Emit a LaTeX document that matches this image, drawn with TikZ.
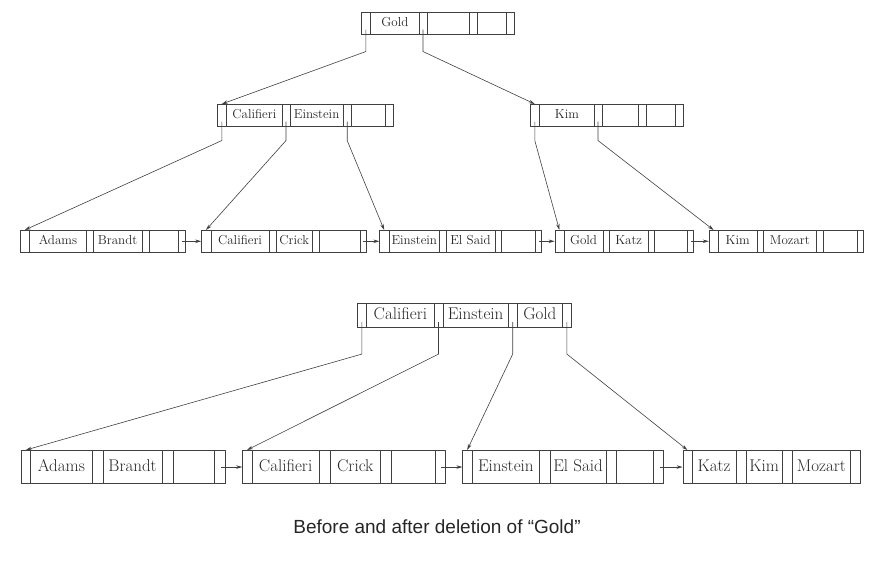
\documentclass[tikz,border=0pt]{standalone}
\usepackage{fontspec}
\newfontfamily\capfont{Liberation Sans}
\usetikzlibrary{arrows,arrows.meta,positioning,calc,shapes.multipart}

% pointer cell and key cell of a tree node
\newcommand{\pc}[1]{\makebox[#1pt]{\vphantom{Ag}}}
\newcommand{\kc}[2]{\makebox[#1pt]{\vphantom{Ag}#2}}
% p k p k p k p
\newcommand{\bcells}[7]{\pc{9}\nodepart{two}\kc{#1}{#2}\nodepart{three}\pc{#7}%
  \nodepart{four}\kc{#3}{#4}\nodepart{five}\pc{#7}\nodepart{six}\kc{#5}{#6}\nodepart{seven}\pc{#7}}

\begin{document}
\begin{tikzpicture}[>={Stealth[length=6pt,width=3.5pt]}, x=1pt, y=1pt]
        \tikzstyle{bnode}=[rectangle split, rectangle split horizontal, rectangle split parts=7,
          draw=black!75, line width=0.6pt, text=black!85, inner xsep=0pt, inner ysep=5pt,
          anchor=north west, font=\fontsize{13}{15}\selectfont]
        \tikzstyle{bignode}=[bnode, font=\fontsize{17}{19}\selectfont, inner ysep=4.5pt]
        \tikzstyle{bigleaf}=[bignode, inner ysep=9pt]
        \tikzstyle{ptr}=[->, draw=black!75, line width=0.6pt]
        \useasboundingbox (0,0) rectangle (870,-560);

        % before
        \node[bnode] (gold) at (361,-12) {\bcells{48}{Gold}{42}{}{29}{}{7}};
        \node[bnode] (ce) at (217,-104) {\bcells{55}{Califieri}{53}{Einstein}{34}{}{7}};
        \node[bnode] (kim) at (530,-104) {\bcells{54}{Kim}{36}{}{29}{}{7}};

        \node[bnode] (ab) at (20,-230) {\bcells{56}{Adams}{49}{Brandt}{29}{}{6}};
        \node[bnode, right=16pt of ab] (cc) {\bcells{58}{Califieri}{36}{Crick}{40}{}{6}};
        \node[bnode, right=13pt of cc] (es) {\bcells{50}{Einstein}{48}{El Said}{33}{}{6}};
        \node[bnode, right=13pt of es] (gk) {\bcells{38}{Gold}{38}{Katz}{32}{}{6}};
        \node[bnode, right=15pt of gk] (km) {\bcells{38}{Kim}{52}{Mozart}{34}{}{6}};

        \draw[ptr] ([yshift=5pt]gold.one south) -- ++(0,-22) -- (ce.one north);
        \draw[ptr] ([yshift=5pt]gold.three south) -- ++(0,-22) -- (kim.one north);

        \draw[ptr] ([yshift=5pt]ce.one south) -- ++(0,-19) -- (ab.one north);
        \draw[ptr] ([yshift=5pt]ce.three south) -- ++(0,-19) -- (cc.one north);
        \draw[ptr] ([yshift=5pt]ce.five south) -- ++(0,-19) -- (es.one north);
        \draw[ptr] ([yshift=5pt]kim.one south) -- ++(0,-19) -- (gk.one north);
        \draw[ptr] ([yshift=5pt]kim.three south) -- ++(0,-19) -- (km.one north);

        \draw[ptr] ([xshift=-3pt]ab.east) -- (cc.west);
        \draw[ptr] ([xshift=-3pt]cc.east) -- (es.west);
        \draw[ptr] ([xshift=-3pt]es.east) -- (gk.west);
        \draw[ptr] ([xshift=-3pt]gk.east) -- (km.west);

        % after
        \node[bignode] (ceg) at (357,-303) {\bcells{67}{Califieri}{65}{Einstein}{45}{Gold}{8}};

        \node[bigleaf] (ab2) at (21,-450) {\bcells{61}{Adams}{59}{Brandt}{41}{}{10}};
        \node[bigleaf, right=17pt of ab2] (cc2) {\bcells{67}{Califieri}{50}{Crick}{43}{}{10}};
        \node[bigleaf, right=17pt of cc2] (es2) {\bcells{67}{Einstein}{55}{El Said}{36}{}{10}};
        \node[bigleaf, right=19pt of es2] (kkm) {\bcells{43}{Katz}{35}{Kim}{57}{Mozart}{10}};

        \draw[ptr] ([yshift=6pt]ceg.one south) -- ++(0,-32) -- (ab2.one north);
        \draw[ptr] ([yshift=6pt]ceg.three south) -- ++(0,-32) -- (cc2.one north);
        \draw[ptr] ([yshift=6pt]ceg.five south) -- ++(0,-32) -- (es2.one north);
        \draw[ptr] ([yshift=6pt]ceg.seven south) -- ++(0,-32) -- (kkm.one north);

        \draw[ptr] ([xshift=-4pt]ab2.east) -- (cc2.west);
        \draw[ptr] ([xshift=-4pt]cc2.east) -- (es2.west);
        \draw[ptr] ([xshift=-4pt]es2.east) -- (kkm.west);

        \node[font=\capfont\fontsize{19}{22}\selectfont, text=black!85] (cap) at (437,-527)
          {Before and after deletion of “Gold”};
    \end{tikzpicture}
\end{document}
